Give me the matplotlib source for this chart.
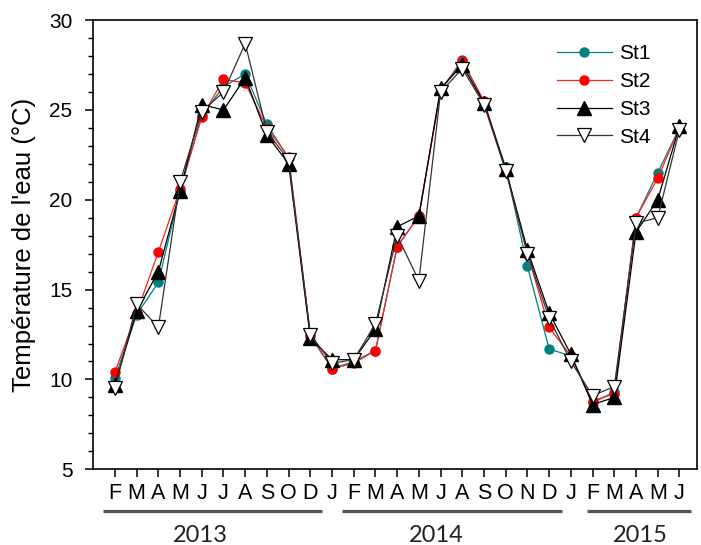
import numpy as np
import matplotlib
matplotlib.use("Agg")
import matplotlib.pyplot as plt
import matplotlib.transforms as mtransforms
from matplotlib.ticker import MultipleLocator

# month labels (Feb 2013 -> Jun 2015, as printed on the chart)
months = ["F", "M", "A", "M", "J", "J", "A", "S", "O", "D",
          "J", "F", "M", "A", "M", "J", "A", "S", "O", "N", "D",
          "J", "F", "M", "A", "M", "J"]

# water temperature per station (degrees C)
st1 = [10.1, 13.6, 15.4, 20.5, 24.7, 26.3, 27.0, 24.2, 22.3, 12.4,
       10.6, 11.0, 11.6, 17.4, 19.1, 26.1, 27.8, 25.4, 21.8, 16.3, 11.7,
       11.3, 8.7, 9.3, 19.0, 21.5, 24.0]
st2 = [10.4, 13.7, 17.1, 20.6, 24.6, 26.7, 26.5, 24.0, 22.4, 12.5,
       10.6, 10.9, 11.6, 17.4, 19.1, 26.1, 27.7, 25.5, 21.7, 17.0, 12.9,
       11.3, 8.8, 9.2, 19.0, 21.2, 24.0]
st3 = [9.7, 13.8, 16.0, 20.5, 25.3, 25.0, 26.8, 23.6, 22.0, 12.3,
       11.1, 11.1, 12.8, 18.5, 19.1, 26.2, 27.5, 25.4, 21.7, 17.2, 13.7,
       11.4, 8.6, 9.0, 18.2, 20.0, 24.1]
st4 = [9.5, 14.2, 12.9, 21.0, 24.9, 26.0, 28.7, 23.8, 22.2, 12.5,
       10.9, 11.1, 13.1, 18.0, 15.5, 26.0, 27.3, 25.3, 21.6, 17.0, 13.4,
       11.0, 9.1, 9.6, 18.7, 19.0, 23.9]

years = ["2013", "2014", "2015"]
year_spans = [(-0.55, 9.55), (10.45, 20.6), (21.75, 26.55)]
year_label_x = [3.92, 14.8, 24.2]

x = np.arange(len(months))

fig = plt.figure(figsize=(7.01, 5.45), dpi=100)
ax = fig.add_axes([0.133, 0.139, 0.861, 0.824])

ax.plot(x, st1, color="#008080", lw=0.9, marker="o", ms=6.5,
        mfc="#008080", mec="#008080", label="St1", zorder=3)
ax.plot(x, st2, color="#ff2020", lw=0.9, marker="o", ms=6.5,
        mfc="#ff0000", mec="#ff0000", label="St2", zorder=4)
ax.plot(x, st3, color="black", lw=0.9, marker="^", ms=9.5,
        mfc="black", mec="black", label="St3", zorder=5)
ax.plot(x, st4, color="#333333", lw=0.9, marker="v", ms=9.5,
        mfc="white", mec="black", mew=0.9, label="St4", zorder=6)

ax.set_xlim(-1, 26.8)
ax.set_ylim(5, 30)
ax.set_xticks(x)
ax.set_xticklabels(months, fontsize=15.5, family="Liberation Sans")
ax.yaxis.set_major_locator(MultipleLocator(5))
ax.yaxis.set_minor_locator(MultipleLocator(1))

ax.tick_params(axis="x", direction="out", length=6, width=1.1, pad=4)
ax.tick_params(axis="y", which="major", direction="out", length=6, width=1.1,
               pad=9, labelsize=15)
ax.tick_params(axis="y", which="minor", direction="out", length=3.5, width=1.0)
for lab in ax.get_yticklabels():
    lab.set_family("Liberation Sans")
for sp in ax.spines.values():
    sp.set_linewidth(1.2)

ax.set_ylabel("Température de l'eau (°C)", fontsize=18.5, family="Liberation Sans")
ax.yaxis.set_label_coords(-0.095, 0.5)

# year brackets under the month labels
trans = mtransforms.blended_transform_factory(ax.transData, ax.transAxes)
for yr, (x0, x1), xl in zip(years, year_spans, year_label_x):
    ax.plot([x0, x1], [-0.094, -0.094], color="#555555", lw=2.3,
            transform=trans, clip_on=False, solid_capstyle="butt")
    ax.text(xl, -0.148, yr, transform=trans, ha="center",
            va="center", fontsize=17, family="Lato", color="#222222")

ax.legend(loc="upper left", bbox_to_anchor=(0.768, 0.946), frameon=False,
          prop={"family": "Liberation Sans", "size": 15},
          handlelength=2.65, labelspacing=0.42, handletextpad=0.35,
          borderpad=0, borderaxespad=0)

fig.savefig("out.png", dpi=100)
